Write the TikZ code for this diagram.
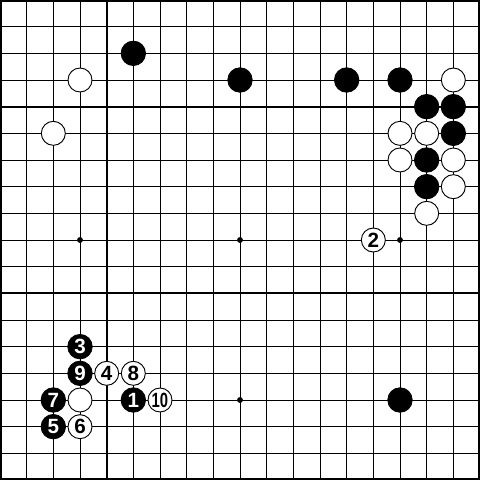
\documentclass[tikz,border=0pt]{standalone}
\usepackage{fontspec}
\setmainfont{Liberation Sans}
\begin{document}
\begin{tikzpicture}[x=0.5cm,y=-0.5cm,
  gridline/.style={line width=0.5pt,black},
  heavyline/.style={line width=1.1pt,black},
  bstone/.style={circle,fill=black,draw=black,line width=0.4pt,minimum size=0.46cm,inner sep=0pt,text=white,font=\bfseries\fontsize{11}{11}\selectfont},
  wstone/.style={circle,fill=white,draw=black,line width=0.5pt,minimum size=0.45cm,inner sep=0pt,text=black,font=\bfseries\fontsize{11}{11}\selectfont},
  hoshi/.style={circle,fill=black,minimum size=0.11cm,inner sep=0pt}]
\useasboundingbox (0,0) rectangle (18,18);
\fill[white] (0,0) rectangle (18,18);
\foreach \k in {1,...,17} {
  \draw[gridline] (\k,0) -- (\k,18);
  \draw[gridline] (0,\k) -- (18,\k);
}
\draw[heavyline] (4,0) -- (4,18);
\draw[heavyline] (0,4) -- (18,4);
\draw[heavyline] (0,11) -- (18,11);
\draw[line width=2.2pt] (0,0) rectangle (18,18);
% star points
\node[hoshi] (h1) at (3,9) {};
\node[hoshi] (h2) at (9,9) {};
\node[hoshi] (h3) at (15,9) {};
\node[hoshi] (h4) at (9,15) {};
% top stones
\node[bstone] (b1) at (5,2) {};
\node[wstone] (w1) at (3,3) {};
\node[wstone] (w2) at (2,5) {};
\node[bstone] (b2) at (9,3) {};
\node[bstone] (b3) at (13,3) {};
\node[bstone] (b4) at (15,3) {};
\node[wstone] (w3) at (17,3) {};
\node[bstone] (b5) at (16,4) {};
\node[bstone] (b6) at (17,4) {};
\node[wstone] (w4) at (15,5) {};
\node[wstone] (w5) at (16,5) {};
\node[bstone] (b7) at (17,5) {};
\node[wstone] (w6) at (15,6) {};
\node[bstone] (b8) at (16,6) {};
\node[wstone] (w7) at (17,6) {};
\node[bstone] (b9) at (16,7) {};
\node[wstone] (w8) at (17,7) {};
\node[wstone] (w9) at (16,8) {};
\node[wstone] (m2) at (14,9) {2};
% bottom
\node[bstone] (b10) at (15,15) {};
\node[bstone] (m3) at (3,13) {3};
\node[bstone] (m9) at (3,14) {9};
\node[wstone] (m4) at (4,14) {4};
\node[wstone] (m8) at (5,14) {8};
\node[bstone] (m7) at (2,15) {7};
\node[wstone] (w10) at (3,15) {};
\node[bstone] (m1) at (5,15) {1};
\node[wstone] (m10) at (6,15) {\scalebox{0.72}[1]{10}};
\node[bstone] (m5) at (2,16) {5};
\node[wstone] (m6) at (3,16) {6};
\end{tikzpicture}
\end{document}
